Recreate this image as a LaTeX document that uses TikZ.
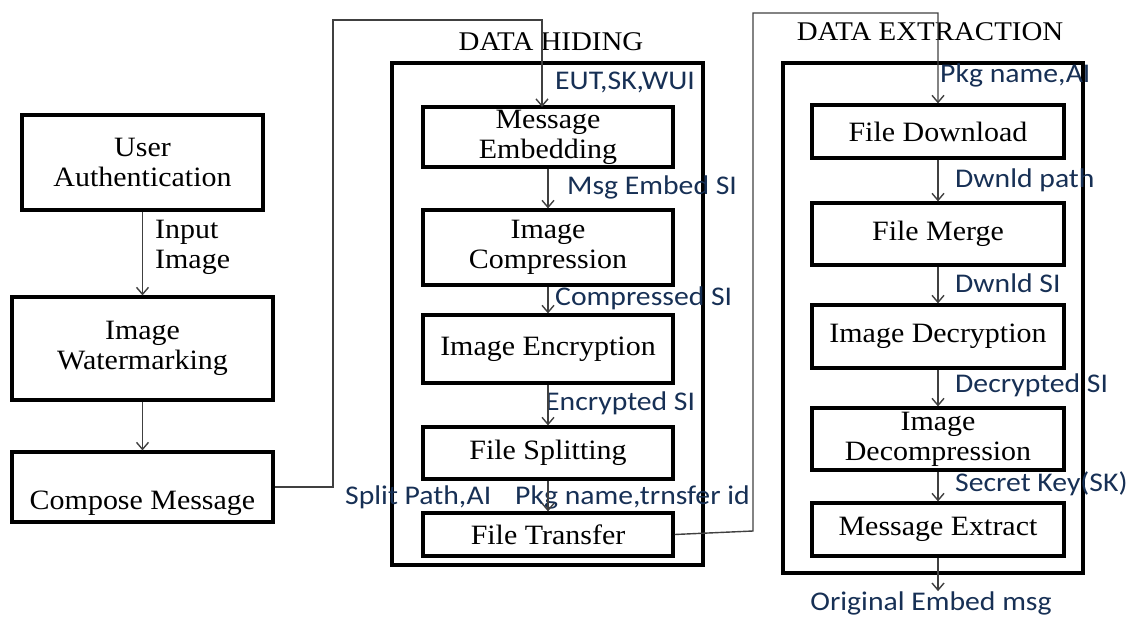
\documentclass[tikz,border=0pt]{standalone}
\usepackage{fontspec}
\setmainfont{Liberation Serif}[FakeStretch=1.07]
\newfontfamily\lblfont{Carlito}[FakeStretch=1.1]
\usetikzlibrary{arrows.meta}
\definecolor{lblblue}{RGB}{23,48,85}
\definecolor{linegray}{RGB}{64,64,64}
\tikzset{
	blk/.style={draw=black, line width=3.2pt, align=center, inner sep=0pt, font=\fontsize{28}{30}\selectfont},
	frame/.style={draw=black, line width=3.4pt},
	title/.style={font=\fontsize{27}{30}\selectfont, inner sep=0pt},
	lbl/.style={anchor=west, inner sep=0pt, text=lblblue, font=\lblfont\fontsize{27}{30}\selectfont},
	link/.style={draw=linegray, line width=1.4pt, -{Straight Barb[length=7pt,width=12pt,line width=1.4pt]}},
	wire/.style={draw=linegray, line width=1.4pt}
}

\begin{document}
\begin{tikzpicture}[x=1pt, y=-1pt]
		%%%%% START %%%%%
		\useasboundingbox (0, 0) rectangle (1135, 618);
		
		% left column
		\node[blk, minimum width=241, minimum height=95] (ua) at (142.5, 162.5) {User\\Authentication};
		\node[blk, minimum width=261, minimum height=103] (iw) at (142.5, 348.5) {Image\\Watermarking};
		\node[blk, minimum width=261, minimum height=70] (cm) at (142.5, 487) {};
		\node[inner sep=0pt, font=\fontsize{28}{30}\selectfont] (cmtxt) at (142.5, 503) {Compose Message};
		\node[align=left, anchor=west, inner sep=0pt, font=\fontsize{28}{30}\selectfont] (inimg) at (155, 247) {Input\\Image};
		
		\draw[link] (ua) -- (iw);
		\draw[link] (iw) -- (cm);
		
		% data hiding
		\node[title] (dhtitle) at (551, 42) {DATA HIDING};
		\draw[frame] (392, 63) rectangle (703, 565);
		\node[blk, minimum width=250, minimum height=60] (me) at (548, 137) {Message\\Embedding};
		\node[blk, minimum width=250, minimum height=75] (ic) at (548, 247.5) {Image\\Compression};
		\node[blk, minimum width=250, minimum height=68] (ie) at (548, 349) {Image Encryption};
		\node[blk, minimum width=250, minimum height=52] (fs) at (548, 453) {File Splitting};
		\node[blk, minimum width=250, minimum height=43] (ft) at (548, 534.5) {File Transfer};
		
		\node[lbl] (l1) at (555, 82) {EUT,SK,WUI};
		\node[lbl] (l2) at (567, 187) {Msg Embed SI};
		\node[lbl] (l3) at (555, 298) {Compressed SI};
		\node[lbl] (l4) at (545, 403) {Encrypted SI};
		\node[lbl] (l5) at (345, 497) {Split Path,AI};
		\node[lbl] (l6) at (515, 497) {Pkg name,trnsfer id};
		
		\draw[link] (me) -- (ic);
		\draw[link] (ic) -- (ie);
		\draw[link] (ie) -- (fs);
		\draw[link] (fs) -- (ft);
		
		% data extraction
		\node[title] (detitle) at (930, 32) {DATA EXTRACTION};
		\draw[frame] (783, 63) rectangle (1083, 573);
		\node[blk, minimum width=252, minimum height=53] (fd) at (938, 131.5) {File Download};
		\node[blk, minimum width=252, minimum height=62] (fm) at (938, 234) {File Merge};
		\node[blk, minimum width=252, minimum height=63] (id) at (938, 336.5) {Image Decryption};
		\node[blk, minimum width=252, minimum height=62] (idc) at (938, 439) {Image\\Decompression};
		\node[blk, minimum width=252, minimum height=53] (mx) at (938, 529.5) {Message Extract};
		
		\node[lbl] (l7) at (940, 75) {Pkg name,AI};
		\node[lbl] (l8) at (955, 180) {Dwnld path};
		\node[lbl] (l9) at (955, 283) {Dwnld SI};
		\node[lbl] (l10) at (955, 385) {Decrypted SI};
		\node[lbl] (l11) at (955, 484) {Secret Key(SK)};
		\node[lbl, anchor=center] (out) at (931, 603) {Original Embed msg};
		
		\draw[link] (fd) -- (fm);
		\draw[link] (fm) -- (id);
		\draw[link] (id) -- (idc);
		\draw[link] (idc) -- (mx);
		\draw[link] (mx.south) -- (mx.south |- out.north);
		
		% long connectors
		\coordinate (c1) at (333, 20);
		\coordinate (c2) at (753, 531);
		\coordinate (c3) at (753, 13);
		\draw[link] (cm.east) -| (c1) -| (542, 107);
		\draw[link] (ft.east) -- (c2) -- (c3) -| (fd.north);
		%%%%% END %%%%%
	\end{tikzpicture}
\end{document}
